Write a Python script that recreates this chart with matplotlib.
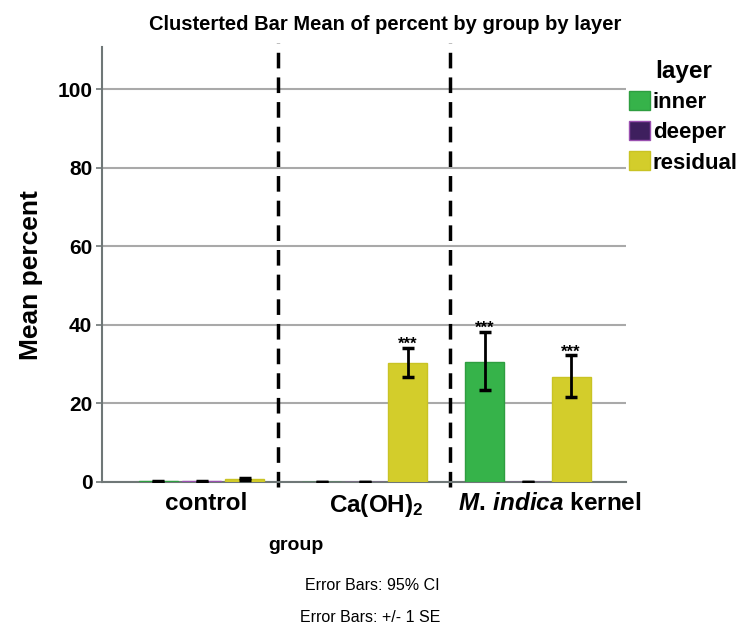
import numpy as np
import matplotlib.pyplot as plt
import matplotlib.transforms as mtransforms
from matplotlib.patches import Patch

plt.rcParams['font.family'] = ['Liberation Sans', 'DejaVu Sans']
plt.rcParams['mathtext.fontset'] = 'custom'
plt.rcParams['mathtext.rm'] = 'Liberation Sans:bold'
plt.rcParams['mathtext.it'] = 'Liberation Sans:italic:bold'

# Data
groups = ['control', r'Ca(OH)$_2$', r'$\mathit{M.\,indica}$ kernel']
layers = ['inner', 'deeper', 'residual']
inner = [0.2, 0.0, 30.5]
deeper = [0.2, 0.0, 0.0]
residual = [0.7, 30.3, 26.7]
inner_lo = [0.1, 0.0, 23.4]
inner_hi = [0.3, 0.0, 38.2]
deeper_lo = [0.1, 0.0, 0.0]
deeper_hi = [0.3, 0.0, 0.0]
residual_lo = [0.5, 26.7, 21.6]
residual_hi = [0.9, 34.1, 32.3]
inner_sig = ['', '', '***']
deeper_sig = ['', '', '']
residual_sig = ['', '***', '***']

series = [
    (inner, inner_lo, inner_hi, inner_sig, '#36b34a', '#2e9e40'),
    (deeper, deeper_lo, deeper_hi, deeper_sig, '#3e1f5e', '#9a50b0'),
    (residual, residual_lo, residual_hi, residual_sig, '#d3cd2b', '#c9c324'),
]

fig = plt.figure(figsize=(7.39, 6.3), dpi=100)
ax = fig.add_axes([0.138, 0.235, 0.709, 0.69])

x = np.arange(len(groups))
off = 0.264
w = 0.24
for i, (vals, lo, hi, sig, fc, ec) in enumerate(series):
    xs = x + (i - 1) * off
    vals = np.array(vals)
    err = [vals - np.array(lo), np.array(hi) - vals]
    ax.bar(xs, vals, width=w, color=fc, edgecolor=ec, linewidth=1, zorder=3)
    ax.errorbar(xs, vals, yerr=err, fmt='none', ecolor='black',
                elinewidth=2, capsize=4, capthick=2.5, zorder=4)
    for xx, h, s in zip(xs, hi, sig):
        if s:
            ax.text(xx, h - 0.3, s, ha='center', va='baseline',
                    fontsize=12, fontweight='bold', zorder=5)

# group separators
for xv in [0.47, 1.52]:
    ax.axvline(xv, ymin=-0.012, ymax=1.01, color='black', lw=2.5,
               ls=(0, (4.5, 2.6)), clip_on=False, zorder=2)

ax.set_xlim(-0.61, 2.6)
ax.set_ylim(0, 110.7)
ax.set_yticks([0, 20, 40, 60, 80, 100])
ax.yaxis.grid(True, color='#a9a9a9', lw=1.5, zorder=0)
ax.set_axisbelow(True)
for s in ['top', 'right']:
    ax.spines[s].set_visible(False)
ax.spines['left'].set_color('#6f7777')
ax.spines['bottom'].set_color('#6f7777')
ax.spines['left'].set_linewidth(1.5)
ax.spines['bottom'].set_linewidth(1.5)
ax.tick_params(axis='y', length=4, width=1.2, color='#6f7777', labelsize=15, pad=3)
ax.tick_params(axis='x', length=0, labelsize=17.5, pad=7)
for lab in ax.get_yticklabels():
    lab.set_fontweight('bold')
ax.set_xticks(x)
ax.set_xticklabels(groups, fontweight='bold')
# group labels sit a little right of the cluster centres in the original
for lab, dx in zip(ax.get_xticklabels(), [5, 11, 22]):
    lab.set_transform(lab.get_transform() +
                      mtransforms.ScaledTranslation(dx / 100, 0, fig.dpi_scale_trans))
ax.set_ylabel('Mean percent', fontsize=19, fontweight='bold')
ax.yaxis.set_label_coords(-0.113, 0.476)

fig.text(385 / 739, 1 - 24 / 630, 'Clusterted Bar Mean of percent by group by layer',
         ha='center', va='center', fontsize=14.5, fontweight='bold')
fig.text(296 / 739, 1 - 545 / 630, 'group', ha='center', va='center',
         fontsize=14, fontweight='bold')
fig.text(372 / 739, 1 - 585 / 630, 'Error Bars: 95% CI', ha='center',
         va='center', fontsize=11.5)
fig.text(370 / 739, 1 - 618 / 630, 'Error Bars: +/- 1 SE', ha='center',
         va='center', fontsize=11.5)

handles = [Patch(facecolor=s[4], edgecolor=s[5]) for s in series]
leg = fig.legend(handles, layers, loc='upper left', bbox_to_anchor=(0.851, 0.905),
                 frameon=False, title='layer', handlelength=0.95, handleheight=0.95,
                 handletextpad=0.12, labelspacing=0.36, borderpad=0, borderaxespad=0,
                 prop={'size': 16, 'weight': 'bold'},
                 title_fontproperties={'size': 17.5, 'weight': 'bold'})

fig.savefig('out.png', dpi=100)
